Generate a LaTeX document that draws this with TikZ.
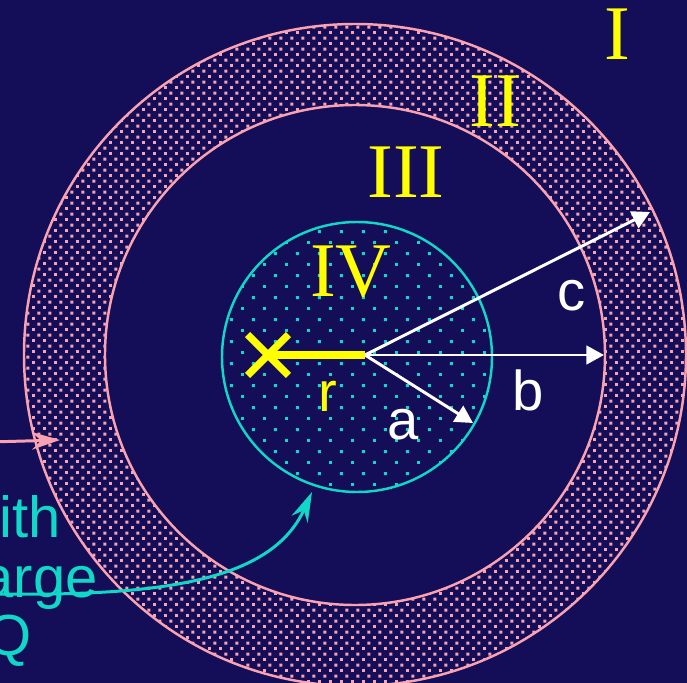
\documentclass[tikz,border=0pt]{standalone}
\usepackage{fontspec}
\setmainfont{Liberation Serif}
\newfontfamily\labelsans{Liberation Sans}
\usetikzlibrary{arrows.meta,patterns.meta,shapes.misc}

\definecolor{navy}{RGB}{19,14,87}
\definecolor{shellpink}{RGB}{250,162,178}
\definecolor{spherecyan}{RGB}{16,216,200}
\definecolor{markyellow}{RGB}{255,255,0}

% dotted fills for the shell and the sphere
\tikzdeclarepattern{
  name=shelldots,
  type=uncolored,
  bounding box={(0pt,0pt) and (6.26pt,6.26pt)},
  tile size={(6.26pt,6.26pt)},
  code={
    \fill (0pt,0pt) rectangle (1.6pt,1.6pt);
    \fill (3.13pt,3.13pt) rectangle (4.73pt,4.73pt);
  }
}
\tikzdeclarepattern{
  name=spheredots,
  type=uncolored,
  bounding box={(0pt,0pt) and (12.52pt,12.52pt)},
  tile size={(12.52pt,12.52pt)},
  code={
    \fill (0pt,0pt) rectangle (1.7pt,1.7pt);
    \fill (6.26pt,6.26pt) rectangle (7.96pt,7.96pt);
  }
}

\begin{document}
\begin{tikzpicture}[
    x=0.02cm, y=-0.02cm,
    shell/.style={draw=shellpink, line width=1.4pt},
    sphere/.style={draw=spherecyan, line width=1.4pt},
    numeral/.style={font=\fontsize{44}{48}\selectfont, text=markyellow, inner sep=0pt},
    letter/.style={font=\labelsans\fontsize{32}{34}\selectfont, text=white, inner sep=0pt},
    note/.style={font=\labelsans\fontsize{33}{35}\selectfont, text=spherecyan, inner sep=0pt, anchor=base},
    radarrow/.style={draw=white, line width=1.7pt, -{Triangle[length=10pt, width=10.5pt]}},
    rline/.style={draw=markyellow, line width=4.5pt},
    pointmark/.style={cross out, draw=markyellow, line width=4.2pt, minimum size=19pt, inner sep=0pt},
]

% ── frame ──
\useasboundingbox (0,0) rectangle (687,683);
\fill[navy] (0,0) rectangle (687,683);
\clip (0,0) rectangle (687,683);

\coordinate (ctr) at (355,355);
\coordinate (sc)  at (357,357);
\coordinate (o)   at (365,355);

% ── charged shell (region II) ──
\fill[pattern=shelldots, pattern color=shellpink, even odd rule]
    (ctr) circle (331) (ctr) circle (250);
\draw[shell] (ctr) circle (331);
\draw[shell] (ctr) circle (250);

% ── inner sphere (region IV) ──
\fill[pattern=spheredots, pattern color=spherecyan] (sc) circle (135);
\draw[sphere] (sc) circle (135);

% ── radii ──
\coordinate (ta) at (473,423);
\coordinate (tb) at (604,355);
\coordinate (tc) at (650,212);
\draw[radarrow] (o) -- (ta);
\draw[radarrow] (o) -- (tb);
\draw[radarrow] (o) -- (tc);

\node[letter] (la) at (403,425) {a};
\node[letter] (lb) at (528,390) {b};
\node[letter] (lc) at (572,296) {c};

% ── field point ──
\node[pointmark] (xm) at (268,355) {};
\draw[rline] (o) -- (xm.center);
\node[letter, text=markyellow] (lr) at (328,396) {r};

% ── regions ──
\node[numeral] (r1) at (617,34) {I};
\node[numeral] (r2) at (495,101) {II};
\node[numeral] (r3) at (406,172) {III};
\node[numeral] (r4) at (351,272) {IV};

% ── pointers from the left ──
\coordinate (pin) at (-10,442);
\coordinate (ptip) at (60,440);
\draw[shellpink, line width=1.7pt, -{Stealth[length=16pt, width=10pt]}] (pin) -- (ptip);

\node[note] (n1) at (9,537) {with};
\node[note] (n2) at (9,597) {charge};
\node[note] (n3) at (9,655) {Q};

\coordinate (cin) at (-10,594);
\coordinate (ctip) at (312,492);
\draw[spherecyan, line width=1.7pt, -{Stealth[length=17pt, width=10pt]}]
    (cin) .. controls (150,596) and (270,585) .. (ctip);

\end{tikzpicture}
\end{document}
